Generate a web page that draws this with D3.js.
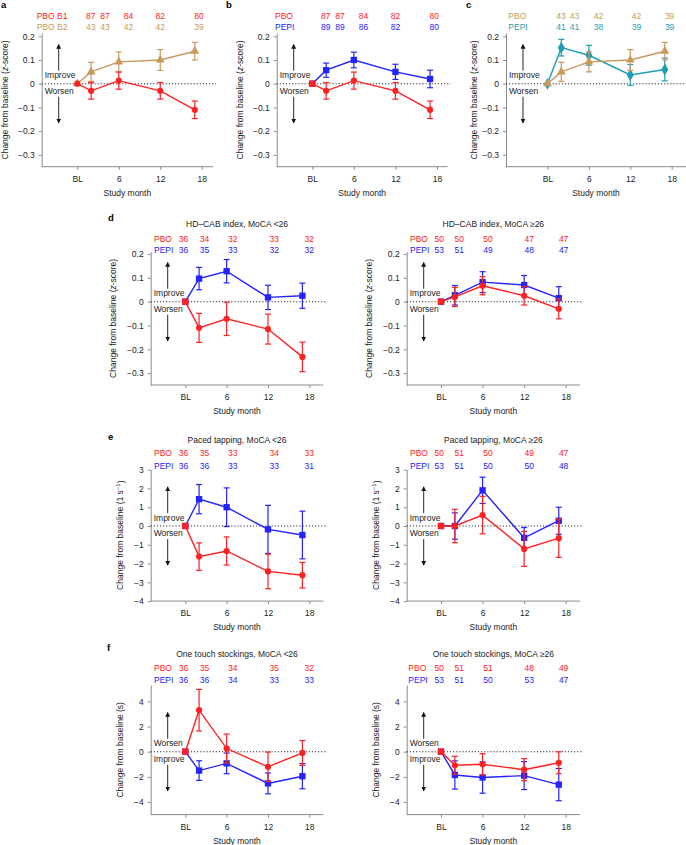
<!DOCTYPE html>
<html>
<head>
<meta charset="utf-8">
<script src="https://cdn.jsdelivr.net/npm/d3@7"></script>
<style>
  body { margin: 0; background: #fff; }
  svg { display: block; font-family: "Liberation Sans", Arial, Helvetica, sans-serif; }
</style>
</head>
<body>
<div id="wrapper"></div>
<script>
const width = 686
const height = 845

const red = "#ff2121", blue = "#2323ff", gold = "#c9995c", teal = "#1d9db4"

// visit months (BL = 0) and x ticks
const months = [0, 2, 6, 12, 17]
const monthTicks = [0, 6, 12, 18]
const monthTickLabels = ["BL", "6", "12", "18"]

// y ticks
const zTicks = [0.2, 0.1, 0, -0.1, -0.2, -0.3]
const tapTicks = [3, 2, 1, 0, -1, -2, -3, -4]
const otsTicks = [4, 2, 0, -2, -4]

// a, b, c : HD-CAB z-score, whole cohort
const pboB1Mean = [0, -0.03, 0.013, -0.03, -0.11]
const pboB1Err  = [0, 0.035, 0.036, 0.035, 0.037]
const pboB2Mean = [0, 0.05, 0.092, 0.1, 0.137]
const pboB2Err  = [0, 0.04, 0.042, 0.044, 0.037]
const pepiMean  = [0, 0.057, 0.1, 0.05, 0.02]
const pepiErr   = [0, 0.03, 0.033, 0.032, 0.037]
const pepiB2Mean = [0, 0.152, 0.12, 0.037, 0.06]
const pepiB2Err  = [0, 0.035, 0.042, 0.044, 0.048]

const nPboB1 = [87, 87, 84, 82, 80]
const nPboB2 = [43, 43, 42, 42, 39]
const nPepi  = [89, 89, 86, 82, 80]
const nPepiB2 = [41, 41, 38, 39, 39]

// d : HD-CAB index by MoCA
const cabLowPboMean  = [0, -0.11, -0.072, -0.115, -0.232]
const cabLowPboErr   = [0, 0.061, 0.07, 0.063, 0.062]
const cabLowPepiMean = [0, 0.097, 0.128, 0.018, 0.025]
const cabLowPepiErr  = [0, 0.047, 0.049, 0.051, 0.053]
const cabHighPboMean  = [0, 0.02, 0.067, 0.025, -0.03]
const cabHighPboErr   = [0, 0.04, 0.038, 0.039, 0.042]
const cabHighPepiMean = [0, 0.027, 0.082, 0.07, 0.015]
const cabHighPepiErr  = [0, 0.041, 0.044, 0.04, 0.048]
const nCabLowPbo   = [36, 34, 32, 33, 32]
const nCabLowPepi  = [36, 35, 33, 32, 32]
const nCabHighPbo  = [50, 50, 50, 47, 47]
const nCabHighPepi = [53, 51, 49, 48, 47]

// e : paced tapping by MoCA
const tapLowPboMean  = [0, -1.63, -1.33, -2.42, -2.62]
const tapLowPboErr   = [0, 0.73, 0.75, 0.92, 0.68]
const tapLowPepiMean = [0, 1.43, 1.0, -0.18, -0.48]
const tapLowPepiErr  = [0, 0.78, 1.03, 1.28, 1.27]
const tapHighPboMean  = [0, 0, 0.58, -1.22, -0.65]
const tapHighPboErr   = [0, 0.89, 1.0, 0.93, 1.02]
const tapHighPepiMean = [0, 0, 1.9, -0.63, 0.28]
const tapHighPepiErr  = [0, 0.7, 0.7, 0.55, 0.72]
const nTapLowPbo   = [36, 35, 33, 34, 33]
const nTapLowPepi  = [36, 36, 33, 33, 31]
const nTapHighPbo  = [50, 51, 50, 49, 47]
const nTapHighPepi = [53, 51, 50, 50, 48]

// f : one touch stockings by MoCA
const otsLowPboMean  = [0, 3.3, 0.25, -1.2, -0.1]
const otsLowPboErr   = [0, 1.65, 1.15, 1.17, 0.99]
const otsLowPepiMean = [0, -1.5, -0.93, -2.52, -1.95]
const otsLowPepiErr  = [0, 0.78, 0.82, 0.83, 1.0]
const otsHighPboMean  = [0, -1.08, -1.0, -1.43, -0.88]
const otsHighPboErr   = [0, 0.71, 0.84, 0.88, 0.87]
const otsHighPepiMean = [0, -1.85, -2.05, -1.9, -2.62]
const otsHighPepiErr  = [0, 1.12, 1.25, 1.11, 1.28]
const nOtsLowPbo   = [36, 35, 34, 35, 32]
const nOtsLowPepi  = [36, 36, 34, 33, 33]
const nOtsHighPbo  = [50, 51, 51, 48, 49]
const nOtsHighPepi = [53, 51, 50, 53, 47]

// where the n-counts sit, in months
const countPosTop = [1.95, 4.0, 7.4, 12.0, 17.6]
const countPosC = [1.95, 3.9, 7.4, 12.9, 17.7]
const countPosLeft = [-0.25, 2.8, 6.9, 12.9, 18.0]
const countPosRight = [-0.25, 2.65, 6.8, 12.75, 17.7]

const fmtZ = d => d === 0 ? "0" : d3.format(".1f")(d)
const fmtI = d3.format("d")

const zLabel = [{t: "Change from baseline ("}, {t: "z", italic: true}, {t: "-score)"}]
const tapLabel = [{t: "Change from baseline (1 s"}, {t: "\u22121", sup: true}, {t: ")"}]
const otsLabel = [{t: "Change from baseline (s)"}]

const svg = d3.select("#wrapper").append("svg")
    .attr("width", width)
    .attr("height", height)
    .style("font-size", "8.5px")

svg.append("defs").append("marker")
    .attr("id", "arrow")
    .attr("viewBox", "0 0 6 6")
    .attr("refX", 5).attr("refY", 3)
    .attr("markerWidth", 5).attr("markerHeight", 5)
    .attr("markerUnits", "userSpaceOnUse")
    .attr("orient", "auto")
  .append("path")
    .attr("d", "M0,0L6,3L0,6Z")
    .attr("fill", "#111")

const zRowA = {yDomain: [-0.35, 0.213], yRange: [166.7, 33.2], ticks: zTicks, fmt: fmtZ, yLabel: zLabel, labOff: 37, rows: [15.7, 26.7]}
const zRowD = {yDomain: [-0.35, 0.21], yRange: [385, 251.7], ticks: zTicks, fmt: fmtZ, yLabel: zLabel, labOff: 38, rows: [239, 249.6], titleY: 224}
const tapRow = {yDomain: [-4, 3.02], yRange: [601.1, 469.3], ticks: tapTicks, fmt: fmtI, yLabel: tapLabel, labOff: 31, rows: [453.3, 466], titleY: 440}
const otsRow = {yDomain: [-5, 5.3], yRange: [814.6, 685], ticks: otsTicks, fmt: fmtI, yLabel: otsLabel, labOff: 31, rows: [668.3, 680], titleY: 654, flip: true}

const leftCols = {axisL: 150.7, xBL: 185.3, x18: 309.3, axisR: 323.3, groupX: 154, countPos: countPosLeft}
const rightCols = {axisL: 406.7, xBL: 441, x18: 565.7, axisR: 580, groupX: 410, countPos: countPosRight}

const panels = [
  {...zRowA, letter: "a", letterXY: [1, 8], axisL: 41.7, xBL: 77.3, x18: 201.7, axisR: 213, groupX: 36.7, countPos: countPosTop,
   series: [
     {name: "PBO B2", mean: pboB2Mean, err: pboB2Err, n: nPboB2, color: gold, shape: "triangle", row: 1},
     {name: "PBO B1", mean: pboB1Mean, err: pboB1Err, n: nPboB1, color: red, shape: "circle", row: 0}]},
  {...zRowA, letter: "b", letterXY: [226, 8], axisL: 276.7, xBL: 312.3, x18: 437, axisR: 447.7, groupX: 275, countPos: countPosTop,
   series: [
     {name: "PEPI", mean: pepiMean, err: pepiErr, n: nPepi, color: blue, shape: "square", row: 1},
     {name: "PBO", mean: pboB1Mean, err: pboB1Err, n: nPboB1, color: red, shape: "circle", base: "square", row: 0}]},
  {...zRowA, letter: "c", letterXY: [466, 8], axisL: 506, xBL: 547.5, x18: 671.7, axisR: 686, groupX: 508.3, countPos: countPosC, labOff: 32,
   series: [
     {name: "PEPI", mean: pepiB2Mean, err: pepiB2Err, n: nPepiB2, color: teal, shape: "diamond", row: 1},
     {name: "PBO", mean: pboB2Mean, err: pboB2Err, n: nPboB2, color: gold, shape: "triangle", row: 0}]},
  {...zRowD, ...leftCols, letter: "d", letterXY: [108, 221], title: "HD\u2013CAB index, MoCA <26",
   series: [
     {name: "PEPI", mean: cabLowPepiMean, err: cabLowPepiErr, n: nCabLowPepi, color: blue, shape: "square", row: 1},
     {name: "PBO", mean: cabLowPboMean, err: cabLowPboErr, n: nCabLowPbo, color: red, shape: "circle", base: "square", row: 0}]},
  {...zRowD, ...rightCols, title: "HD\u2013CAB index, MoCA  \u226526",
   series: [
     {name: "PEPI", mean: cabHighPepiMean, err: cabHighPepiErr, n: nCabHighPepi, color: blue, shape: "square", row: 1},
     {name: "PBO", mean: cabHighPboMean, err: cabHighPboErr, n: nCabHighPbo, color: red, shape: "circle", base: "square", row: 0}]},
  {...tapRow, ...leftCols, letter: "e", letterXY: [108, 440], title: "Paced tapping, MoCA <26",
   series: [
     {name: "PEPI", mean: tapLowPepiMean, err: tapLowPepiErr, n: nTapLowPepi, color: blue, shape: "square", row: 1},
     {name: "PBO", mean: tapLowPboMean, err: tapLowPboErr, n: nTapLowPbo, color: red, shape: "circle", base: "square", row: 0}]},
  {...tapRow, ...rightCols, title: "Paced tapping, MoCA  \u226526",
   series: [
     {name: "PEPI", mean: tapHighPepiMean, err: tapHighPepiErr, n: nTapHighPepi, color: blue, shape: "square", row: 1},
     {name: "PBO", mean: tapHighPboMean, err: tapHighPboErr, n: nTapHighPbo, color: red, shape: "circle", base: "square", row: 0}]},
  {...otsRow, ...leftCols, letter: "f", letterXY: [107, 651], title: "One touch stockings, MoCA <26",
   series: [
     {name: "PEPI", mean: otsLowPepiMean, err: otsLowPepiErr, n: nOtsLowPepi, color: blue, shape: "square", row: 1},
     {name: "PBO", mean: otsLowPboMean, err: otsLowPboErr, n: nOtsLowPbo, color: red, shape: "circle", base: "square", row: 0}]},
  {...otsRow, ...rightCols, groupX: 408.3, title: "One touch stockings, MoCA  \u226526",
   series: [
     {name: "PEPI", mean: otsHighPepiMean, err: otsHighPepiErr, n: nOtsHighPepi, color: blue, shape: "square", row: 1},
     {name: "PBO", mean: otsHighPboMean, err: otsHighPboErr, n: nOtsHighPbo, color: red, shape: "circle", base: "square", row: 0}]}
]

const shapes = {
  circle: d3.symbol(d3.symbolCircle, 30),
  square: d3.symbol(d3.symbolSquare, 40),
  triangle: d3.symbol(d3.symbolTriangle, 34),
  diamond: d3.symbol(d3.symbolDiamond, 42)
}

function drawPanel(p) {
  const x = d3.scaleLinear().domain([0, 18]).range([p.xBL, p.x18])
  const y = d3.scaleLinear().domain(p.yDomain).range(p.yRange)
  const g = svg.append("g")
  const y0 = y(0)

  if (p.letter) {
    g.append("text")
        .attr("x", p.letterXY[0]).attr("y", p.letterXY[1])
        .attr("font-weight", "bold").style("font-size", "9.5px")
        .text(p.letter)
  }
  if (p.title) {
    g.append("text")
        .attr("x", (p.axisL + p.axisR) / 2).attr("y", p.titleY)
        .attr("dy", "0.35em").attr("text-anchor", "middle").attr("fill", "#222")
        .text(p.title)
  }

  // y axis
  g.append("g")
      .attr("transform", `translate(${p.axisL},0)`)
      .call(d3.axisLeft(y).tickValues(p.ticks).tickFormat(p.fmt).tickSize(3).tickSizeOuter(0).tickPadding(4))
      .call(a => a.selectAll("text").style("font-size", "8.5px").attr("fill", "#222").style("font-family", null))
      .call(a => a.selectAll("line,path").attr("stroke", "#8c8c8c"))
      .attr("font-family", null)

  // x axis
  const xa = g.append("g")
      .attr("transform", `translate(0,${p.yRange[0]})`)
      .call(d3.axisBottom(x).tickValues(monthTicks).tickFormat((d, i) => monthTickLabels[i]).tickSize(3).tickPadding(6))
      .attr("font-family", null)
  xa.select(".domain").remove()
  xa.selectAll("text").style("font-size", "8.5px").attr("fill", "#222")
  xa.selectAll("line").attr("stroke", "#8c8c8c")
  g.append("line")
      .attr("x1", p.axisL).attr("x2", p.axisR)
      .attr("y1", p.yRange[0]).attr("y2", p.yRange[0])
      .attr("stroke", "#8c8c8c")

  g.append("text")
      .attr("x", (p.axisL + p.axisR) / 2).attr("y", p.yRange[0] + 26)
      .attr("dy", "0.35em").attr("text-anchor", "middle").attr("fill", "#222")
      .text("Study month")

  const yl = g.append("text")
      .attr("transform", `translate(${p.axisL - p.labOff},${(p.yRange[0] + p.yRange[1]) / 2}) rotate(-90)`)
      .attr("text-anchor", "middle").attr("dy", "0.35em").attr("fill", "#222")
  for (const part of p.yLabel) {
    const ts = yl.append("tspan").text(part.t)
    if (part.italic) ts.attr("font-style", "italic")
    if (part.sup) ts.attr("dy", "-0.4em").style("font-size", "6px")
    else if (yl.selectAll("tspan").size() > 1 && p.yLabel[p.yLabel.indexOf(part) - 1].sup) ts.attr("dy", "0.4em")
  }

  // zero line
  g.append("line")
      .attr("x1", p.axisL).attr("x2", p.axisR + 3)
      .attr("y1", y0).attr("y2", y0)
      .attr("stroke", "#222").attr("stroke-width", 1.1)
      .attr("stroke-dasharray", "1.1,2")

  // improve / worsen cue
  const upWord = p.flip ? "Worsen" : "Improve"
  const downWord = p.flip ? "Improve" : "Worsen"
  g.append("text").attr("x", p.axisL + 3).attr("y", y0 - 8.3).attr("dy", "0.35em").attr("fill", "#222").text(upWord)
  g.append("text").attr("x", p.axisL + 3).attr("y", y0 + 7.3).attr("dy", "0.35em").attr("fill", "#222").text(downWord)
  const ax = p.axisL + 17
  g.append("line").attr("x1", ax).attr("x2", ax).attr("y1", y0 - 13).attr("y2", y0 - 39)
      .attr("stroke", "#111").attr("stroke-width", 0.9).attr("marker-end", "url(#arrow)")
  g.append("line").attr("x1", ax).attr("x2", ax).attr("y1", y0 + 13).attr("y2", y0 + 39)
      .attr("stroke", "#111").attr("stroke-width", 0.9).attr("marker-end", "url(#arrow)")

  // n counts
  for (const s of p.series) {
    const ry = p.rows[s.row]
    g.append("text").attr("x", p.groupX).attr("y", ry).attr("dy", "0.35em")
        .attr("fill", s.color).text(s.name)
    g.append("g").selectAll("text").data(s.n).join("text")
        .attr("x", (d, i) => x(p.countPos[i])).attr("y", ry).attr("dy", "0.35em")
        .attr("text-anchor", "middle").attr("fill", s.color)
        .text(d => d)
  }

  // series
  for (const s of p.series) {
    const pts = months.map((m, i) => ({m, v: s.mean[i], e: s.err[i], i}))
    g.append("path").datum(pts)
        .attr("fill", "none").attr("stroke", s.color).attr("stroke-width", 1.4)
        .attr("d", d3.line().x(d => x(d.m)).y(d => y(d.v)))
    const eb = g.append("g").attr("stroke", s.color).attr("stroke-width", 1.2)
        .selectAll("g").data(pts.filter(d => d.e > 0)).join("g")
    eb.append("line")
        .attr("x1", d => x(d.m)).attr("x2", d => x(d.m))
        .attr("y1", d => y(d.v - d.e)).attr("y2", d => y(d.v + d.e))
    eb.append("line")
        .attr("x1", d => x(d.m) - 3).attr("x2", d => x(d.m) + 3)
        .attr("y1", d => y(d.v + d.e)).attr("y2", d => y(d.v + d.e))
    eb.append("line")
        .attr("x1", d => x(d.m) - 3).attr("x2", d => x(d.m) + 3)
        .attr("y1", d => y(d.v - d.e)).attr("y2", d => y(d.v - d.e))
    g.append("g").selectAll("path").data(pts).join("path")
        .attr("transform", d => `translate(${x(d.m)},${y(d.v)})`)
        .attr("fill", s.color)
        .attr("d", d => (d.i === 0 && s.base ? shapes[s.base] : shapes[s.shape])())
  }
}

panels.forEach(drawPanel)
</script>
</body>
</html>
